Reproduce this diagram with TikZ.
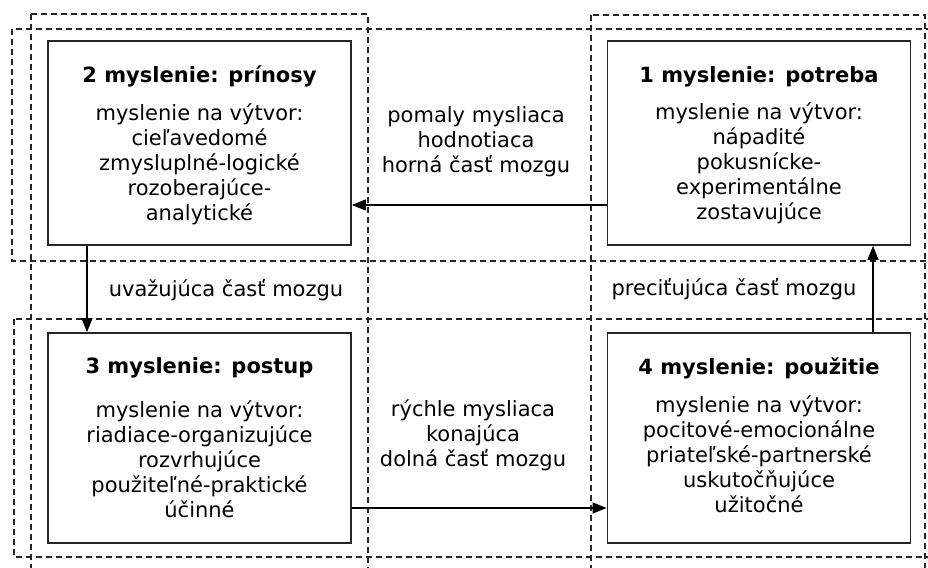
\documentclass[tikz,border=0pt]{standalone}
\usepackage{fontspec}
\setmainfont{DejaVu Sans}
\usetikzlibrary{arrows.meta}
\begin{document}
\begin{tikzpicture}[x=1pt,y=-1pt,
  every node/.style={font=\fontsize{21}{25}\selectfont, inner sep=0pt},
  zone/.style={draw=black!85, line width=1.2pt, dash pattern=on 6pt off 4pt},
  stage/.style={draw=black!85, line width=1.8pt, fill=none, minimum width=303pt},
  title/.style={anchor=base, font=\fontsize{21}{25}\selectfont\bfseries},
  body/.style={anchor=north, align=center},
  label/.style={anchor=base},
  flow/.style={draw=black, line width=1.2pt, -{Triangle[length=14pt,width=11pt]}}
]
\clip (0,0) rectangle (928,567);
\fill[white] (0,0) rectangle (928,567);

% dashed zones: two columns and two rows
\draw[zone] (31,14) rectangle (368,580);
\draw[zone] (591,15) rectangle (925,580);
\draw[zone] (12,29) rectangle (940,261);
\draw[zone] (14,319) rectangle (940,557);

% the four stages
\node[stage, minimum height=204pt] (b2) at (199.5,143) {};
\node[stage, minimum height=204pt] (b1) at (759,143) {};
\node[stage, minimum height=210pt] (b3) at (199.5,438) {};
\node[stage, minimum height=210pt] (b4) at (759,438) {};

\node[title] (t2) at (199.5,83) {2 myslenie: prínosy};
\node[body] (c2) at (199.5,102.5) {\strut myslenie na výtvor:\\cieľavedomé\\zmysluplné-logické\\rozoberajúce-\\analytické};

\node[title] (t1) at (759,83) {1 myslenie: potreba};
\node[body] (c1) at (759,101.5) {\strut myslenie na výtvor:\\nápadité\\pokusnícke-\\experimentálne\\zostavujúce};

\node[title] (t3) at (199.5,373) {3 myslenie: postup};
\node[body] (c3) at (199.5,399.5) {\strut myslenie na výtvor:\\riadiace-organizujúce\\rozvrhujúce\\použiteľné-praktické\\účinné};

\node[title] (t4) at (759,374) {4 myslenie: použitie};
\node[body] (c4) at (759,394.5) {\strut myslenie na výtvor:\\pocitové-emocionálne\\priateľské-partnerské\\uskutočňujúce\\užitočné};

% brain-part labels
\node[body] (upper) at (476,104.5) {\strut pomaly mysliaca\\hodnotiaca\\horná časť mozgu};
\node[body] (lower) at (473,398.5) {\strut rýchle mysliaca\\konajúca\\dolná časť mozgu};
\node[label] (left) at (226,296) {uvažujúca časť mozgu};
\node[label] (right) at (734,295) {preciťujúca časť mozgu};

% cycle of arrows
\draw[flow] ([yshift=-62pt]b1.west) -- ([yshift=-62pt]b2.east);
\draw[flow] ([xshift=-112.5pt]b2.south) -- ([xshift=-112.5pt]b3.north);
\draw[flow] ([yshift=-70pt]b3.east) -- ([yshift=-70pt]b4.west);
\draw[flow] ([xshift=114pt]b4.north) -- ([xshift=114pt]b1.south);
\end{tikzpicture}
\end{document}
